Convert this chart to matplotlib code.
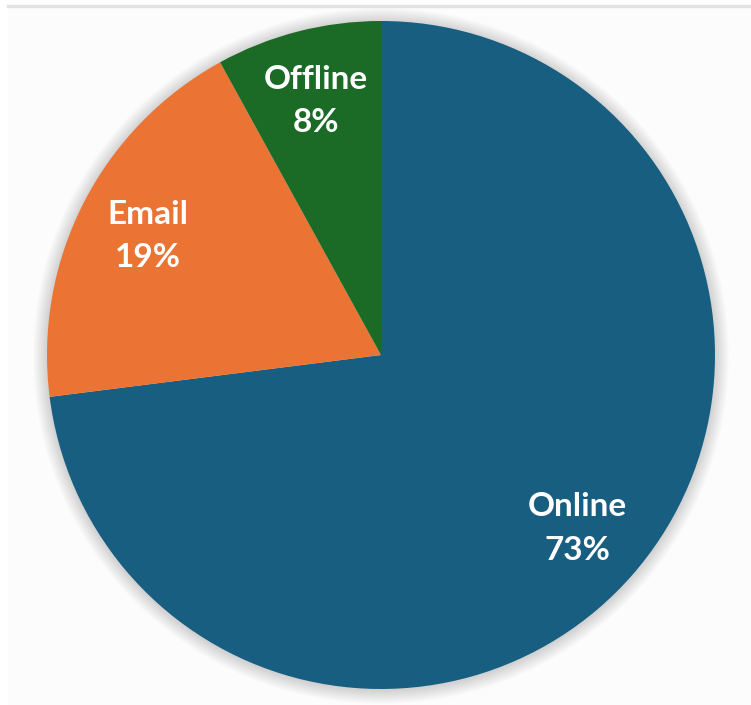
import matplotlib
matplotlib.use("Agg")
import matplotlib.pyplot as plt
from matplotlib.patches import Rectangle, Circle

categories = ["Online", "Email", "Offline"]
values = [73, 19, 8]
colors = ["#175E80", "#EB7434", "#1B6B27"]

W, H = 751, 705
fig = plt.figure(figsize=(W / 100, H / 100), dpi=100)
fig.patch.set_facecolor("white")
ax = fig.add_axes([0, 0, 1, 1])
ax.set_xlim(0, W)
ax.set_ylim(0, H)
ax.set_aspect("equal")
ax.axis("off")

# background with subtle diagonal stripes
plt.rcParams["hatch.color"] = "#EBEBEB"
plt.rcParams["hatch.linewidth"] = 1.3
ax.add_patch(Rectangle((8, 0), W - 8, H - 6, facecolor="#FCFCFC", edgecolor="none",
                       hatch="//////", zorder=0))
ax.plot([8, W], [H - 5.5, H - 5.5], color="#E3E3E3", lw=2.5, zorder=1)

cx, cy, r = 381, H - 355, 334

# soft shadow
for k in range(14, 0, -1):
    ax.add_patch(Circle((cx, cy - 1), r + k, facecolor="black", edgecolor="none",
                        alpha=0.010, zorder=2))

total = sum(values)

def fmt(pct):
    i = min(range(len(values)), key=lambda j: abs(values[j] / total * 100 - pct))
    return f"{categories[i]}\n{values[i]}%"

wedges, texts, autotexts = ax.pie(
    values, colors=colors, startangle=90, counterclock=False,
    center=(cx, cy), radius=r, autopct=fmt, pctdistance=0.785,
    labeldistance=None, frame=True,
    wedgeprops=dict(edgecolor="none", zorder=3),
    textprops=dict(color="white", fontsize=24, fontweight="bold",
                   family=["Lato", "DejaVu Sans"], linespacing=1.6),
)
for t in autotexts:
    t.set_zorder(5)
ax.set_xlim(0, W)
ax.set_ylim(0, H)
ax.axis("off")

fig.savefig("out.png", dpi=100)
